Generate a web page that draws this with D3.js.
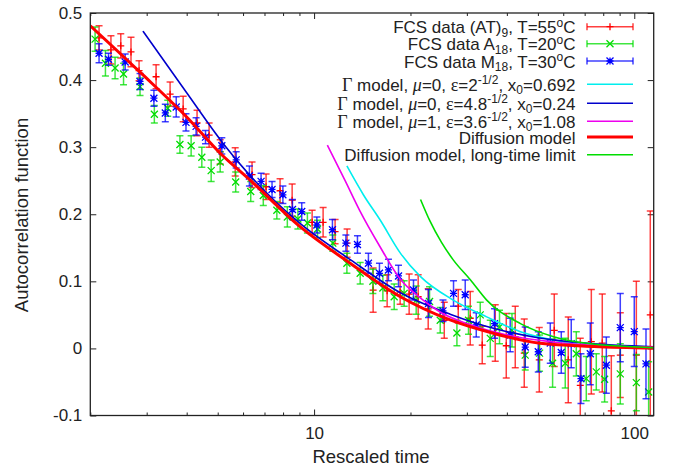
<!DOCTYPE html>
<html>
<head>
<meta charset="utf-8">
<script src="https://cdn.jsdelivr.net/npm/d3@7"></script>
<style>
  body { margin: 0; background: #fff; }
  text { font-family: "Liberation Sans", Arial, Helvetica, sans-serif; fill: #222; }
</style>
</head>
<body>
<svg id="chart" width="673" height="468"></svg>
<script>
// FCS data (AT)9, T=55C  (red)
var atTime  = [2.13, 2.32, 2.49, 2.68, 2.84, 3.21, 3.55, 3.90, 4.31, 4.70, 5.09, 5.67, 6.40, 7.08, 7.83, 8.54, 9.86, 10.67, 11.63, 12.68, 15.29, 16.91, 18.57, 19.81, 21.14, 22.72, 25.50, 28.20, 30.74, 33.51, 36.79, 39.83, 42.49, 45.33, 50.50, 56.25, 62.21, 67.82, 73.43, 79.44, 84.78, 90.44, 101.5, 112.2]
var atValue = [0.463, 0.445, 0.451, 0.442, 0.414, 0.405, 0.379, 0.357, 0.336, 0.318, 0.293, 0.278, 0.259, 0.241, 0.235, 0.221, 0.188, 0.188, 0.174, 0.157, 0.087, 0.086, 0.084, 0.081, 0.077, 0.059, 0.042, 0.063, 0.045, 0.005, 0.023, 0.004, 0.017, -0.007, -0.017, 0.027, -0.017, -0.055, 0.010, 0.008, -0.093, -0.010, -0.010, 0.050]
var atError = [0.018, 0.021, 0.018, 0.022, 0.015, 0.018, 0.018, 0.019, 0.019, 0.018, 0.018, 0.021, 0.019, 0.019, 0.018, 0.024, 0.018, 0.022, 0.018, 0.021, 0.033, 0.024, 0.018, 0.030, 0.033, 0.030, 0.027, 0.025, 0.040, 0.028, 0.042, 0.048, 0.046, 0.051, 0.048, 0.054, 0.064, 0.070, 0.078, 0.073, 0.082, 0.063, 0.110, 0.155]

// FCS data A18, T=20C  (green)
var a18Time  = [2.07, 2.23, 2.39, 2.54, 2.86, 3.17, 3.49, 3.81, 4.13, 4.46, 4.77, 5.09, 5.69, 6.34, 6.94, 7.65, 8.25, 8.90, 9.53, 10.25, 11.44, 12.66, 13.93, 15.26, 16.40, 17.79, 19.11, 20.84, 22.94, 24.77, 27.93, 30.36, 33.03, 35.50, 37.94, 41.50, 45.65, 50.61, 55.58, 60.87, 65.91, 70.82, 76.10, 80.80, 90.44, 101.5, 110.9]
var a18Value = [0.461, 0.425, 0.418, 0.409, 0.390, 0.349, 0.358, 0.304, 0.302, 0.285, 0.265, 0.278, 0.248, 0.234, 0.228, 0.206, 0.196, 0.193, 0.187, 0.178, 0.157, 0.127, 0.112, 0.100, 0.090, 0.077, 0.082, 0.072, 0.070, 0.042, 0.023, 0.042, 0.050, 0.015, 0.032, 0.027, -0.010, -0.007, -0.022, -0.022, -0.008, -0.045, -0.035, -0.046, -0.038, -0.051, -0.065]
var a18Error = [0.018, 0.019, 0.016, 0.016, 0.013, 0.013, 0.012, 0.013, 0.015, 0.015, 0.016, 0.015, 0.015, 0.015, 0.015, 0.013, 0.015, 0.015, 0.015, 0.013, 0.012, 0.015, 0.016, 0.018, 0.019, 0.019, 0.019, 0.021, 0.022, 0.019, 0.019, 0.021, 0.019, 0.027, 0.025, 0.025, 0.022, 0.027, 0.036, 0.037, 0.033, 0.033, 0.027, 0.034, 0.045, 0.042, 0.045]

// FCS data M18, T=30C  (blue)
var m18Time  = [2.13, 2.28, 2.57, 2.86, 3.16, 3.43, 3.71, 3.98, 4.28, 4.58, 5.15, 5.71, 6.28, 6.83, 7.39, 7.99, 8.56, 9.15, 10.20, 11.41, 12.57, 13.66, 14.78, 16.00, 17.07, 18.35, 20.44, 22.77, 25.27, 27.26, 29.65, 32.10, 36.60, 40.98, 45.65, 50.14, 54.66, 59.16, 63.56, 68.16, 72.89, 81.80, 90.44, 100.0, 108.8]
var m18Value = [0.440, 0.431, 0.427, 0.398, 0.373, 0.351, 0.360, 0.337, 0.331, 0.315, 0.302, 0.281, 0.257, 0.249, 0.237, 0.229, 0.207, 0.204, 0.184, 0.177, 0.157, 0.155, 0.127, 0.112, 0.117, 0.108, 0.087, 0.067, 0.056, 0.082, 0.080, 0.035, 0.037, 0.020, 0.002, -0.005, 0.008, -0.006, 0.007, -0.045, -0.008, -0.025, 0.031, 0.025, -0.023]
var m18Error = [0.014, 0.009, 0.012, 0.012, 0.012, 0.013, 0.015, 0.013, 0.013, 0.010, 0.012, 0.012, 0.015, 0.012, 0.012, 0.013, 0.015, 0.013, 0.012, 0.015, 0.012, 0.013, 0.015, 0.015, 0.016, 0.016, 0.015, 0.021, 0.016, 0.019, 0.022, 0.018, 0.022, 0.025, 0.030, 0.030, 0.030, 0.031, 0.036, 0.037, 0.046, 0.042, 0.051, 0.052, 0.052]

// model curves, [time, value]
var gammaA = [[12.66, 0.272], [14.3, 0.228], [16.1, 0.191], [18.6, 0.142], [21.5, 0.107], [27.2, 0.072], [34.6, 0.047], [44.1, 0.025], [56, 0.0126], [71.2, 0.0051], [115, 0.002]]
var gammaB = [[2.92, 0.473], [4, 0.381], [5.19, 0.306], [6.3, 0.258], [9, 0.187], [13, 0.132], [18.6, 0.083], [26.6, 0.051], [36.3, 0.030], [50, 0.016], [70, 0.008], [115, 0.0025]]
var gammaC = [[11.0, 0.303], [12.5, 0.250], [13.9, 0.205], [16, 0.153], [18.6, 0.103], [21.5, 0.075], [24.8, 0.054], [30, 0.037], [40, 0.020], [55, 0.010], [80, 0.004], [115, 0.002]]
var diffusion = [[2, 0.481], [2.85, 0.4125], [4, 0.345], [5.09, 0.291], [6.31, 0.251], [9.04, 0.1815], [12.96, 0.127], [18.6, 0.077], [26.6, 0.0424], [36.3, 0.0225], [50.8, 0.0076], [75, 0.003], [115, 0.0005]]
var longTime = [[21.5, 0.222], [23, 0.19], [25, 0.158], [27.2, 0.132], [30.8, 0.102], [34.6, 0.072], [44.1, 0.037], [56, 0.0175], [71.2, 0.0076], [115, 0.001]]

var yTicks = [-0.1, 0, 0.1, 0.2, 0.3, 0.4, 0.5]
var xMajor = [10, 100]
var xMinor = [2, 3, 4, 5, 6, 7, 8, 9, 20, 30, 40, 50, 60, 70, 80, 90]

var svg = d3.select("#chart")
var plotLeft = 90.3, plotRight = 653.7, plotTop = 13, plotBottom = 415.5

var x = d3.scaleLog().domain([2, 115]).range([plotLeft, plotRight])
var y = d3.scaleLinear().domain([-0.1, 0.5]).range([plotBottom, plotTop])

svg.append("clipPath").attr("id", "clip")
  .append("rect").attr("x", plotLeft).attr("y", plotTop)
  .attr("width", plotRight - plotLeft).attr("height", plotBottom - plotTop)

// axes, ticks pointing inward on all four sides
function styleAxis(g) {
  g.select(".domain").remove()
  g.selectAll(".tick line").attr("stroke", "#222")
  g.selectAll("text").style("font-size", "17px").attr("fill", "#222")
}

svg.append("g").attr("transform", "translate(0," + plotBottom + ")")
  .call(d3.axisBottom(x).tickValues(xMajor).tickSize(-6).tickPadding(11).tickFormat(d3.format("d")))
  .call(styleAxis)
svg.append("g").attr("transform", "translate(0," + plotBottom + ")")
  .call(d3.axisBottom(x).tickValues(xMinor).tickSize(-3).tickFormat(""))
  .call(styleAxis)
svg.append("g").attr("transform", "translate(0," + plotTop + ")")
  .call(d3.axisTop(x).tickValues(xMajor).tickSize(-6).tickFormat(""))
  .call(styleAxis)
svg.append("g").attr("transform", "translate(0," + plotTop + ")")
  .call(d3.axisTop(x).tickValues(xMinor).tickSize(-3).tickFormat(""))
  .call(styleAxis)
svg.append("g").attr("transform", "translate(" + plotLeft + ",0)")
  .call(d3.axisLeft(y).tickValues(yTicks).tickSize(-6).tickPadding(8)
    .tickFormat(function(d) { return d === 0 ? "0" : d.toFixed(1) }))
  .call(styleAxis)
svg.append("g").attr("transform", "translate(" + plotRight + ",0)")
  .call(d3.axisRight(y).tickValues(yTicks).tickSize(-6).tickFormat(""))
  .call(styleAxis)

var plot = svg.append("g").attr("clip-path", "url(#clip)")

function markerPath(kind, s) {
  var plus = "M" + (-s) + ",0H" + s + "M0," + (-s) + "V" + s
  var cross = "M" + (-s) + "," + (-s) + "L" + s + "," + s + "M" + (-s) + "," + s + "L" + s + "," + (-s)
  if (kind === "plus") return plus
  if (kind === "cross") return cross
  return plus + cross
}

function drawSeries(ts, vs, es, color, kind) {
  var rows = ts.map(function(t, i) { return { t: t, v: vs[i], e: es[i] } })
  var g = plot.append("g").attr("stroke", color).attr("fill", "none")
  var pt = g.selectAll("g").data(rows).enter().append("g")
    .attr("transform", function(d) { return "translate(" + x(d.t) + ",0)" })
  pt.append("line").attr("stroke-width", 1.5).attr("stroke-opacity", 0.75)
    .attr("y1", function(d) { return y(d.v - d.e) })
    .attr("y2", function(d) { return y(d.v + d.e) })
  pt.append("path").attr("stroke-width", 1.5).attr("stroke-opacity", 0.75)
    .attr("d", function(d) {
      var lo = y(d.v - d.e), hi = y(d.v + d.e)
      return "M-3.5," + hi + "H3.5M-3.5," + lo + "H3.5"
    })
  pt.append("path").attr("stroke-width", 1.3)
    .attr("transform", function(d) { return "translate(0," + y(d.v) + ")" })
    .attr("d", markerPath(kind, 3.5))
}

drawSeries(atTime, atValue, atError, "#ff0000", "plus")
drawSeries(a18Time, a18Value, a18Error, "#00dd00", "cross")
drawSeries(m18Time, m18Value, m18Error, "#0000ff", "star")

var line = d3.line()
  .x(function(d) { return x(d[0]) })
  .y(function(d) { return y(d[1]) })
  .curve(d3.curveMonotoneX)

var curves = [
  { data: gammaA, color: "#00eeee", width: 1.6 },
  { data: gammaB, color: "#0000cc", width: 1.6 },
  { data: gammaC, color: "#ee00ee", width: 1.6 },
  { data: diffusion, color: "#ff0000", width: 3 },
  { data: longTime, color: "#00dd00", width: 1.6 }
]
curves.forEach(function(c) {
  plot.append("path").datum(c.data)
    .attr("fill", "none").attr("stroke", c.color).attr("stroke-width", c.width)
    .attr("d", line)
})

// frame
svg.append("rect").attr("x", plotLeft).attr("y", plotTop)
  .attr("width", plotRight - plotLeft).attr("height", plotBottom - plotTop)
  .attr("fill", "none").attr("stroke", "#222").attr("stroke-width", 1.3)

// axis titles
svg.append("text").attr("x", (plotLeft + plotRight) / 2 - 1).attr("y", 463)
  .attr("text-anchor", "middle").style("font-size", "18.5px").text("Rescaled time")
svg.append("text").attr("transform", "translate(28,215) rotate(-90)")
  .attr("text-anchor", "middle").style("font-size", "18.5px").text("Autocorrelation function")

// legend
var serif = "'Liberation Serif', 'Times New Roman', serif"
var legendRows = [
  { y: 26.7, kind: "plus", color: "#ff0000", parts: [["FCS data (AT)"], ["9", "sub"], [", T=55"], ["o", "sup"], ["C"]] },
  { y: 43.7, kind: "cross", color: "#00dd00", parts: [["FCS data A"], ["18", "sub"], [", T=20"], ["o", "sup"], ["C"]] },
  { y: 61, kind: "star", color: "#0000ff", parts: [["FCS data M"], ["18", "sub"], [", T=30"], ["o", "sup"], ["C"]] },
  { y: 84.3, color: "#00eeee", width: 1.6, parts: [["\u0393", "serif"], [" model, "], ["\u03bc", "ital"], ["=0, "], ["\u03b5", "serif"], ["=2"], ["-1/2", "sup"], [", x"], ["0", "sub"], ["=0.692"]] },
  { y: 103.3, color: "#0000cc", width: 1.6, parts: [["\u0393", "serif"], [" model, "], ["\u03bc", "ital"], ["=0, "], ["\u03b5", "serif"], ["=4.8"], ["-1/2", "sup"], [", x"], ["0", "sub"], ["=0.24"]] },
  { y: 121.3, color: "#ee00ee", width: 1.6, parts: [["\u0393", "serif"], [" model, "], ["\u03bc", "ital"], ["=1, "], ["\u03b5", "serif"], ["=3.6"], ["-1/2", "sup"], [", x"], ["0", "sub"], ["=1.08"]] },
  { y: 137, color: "#ff0000", width: 3, parts: [["Diffusion model"]] },
  { y: 154.7, color: "#00dd00", width: 1.6, parts: [["Diffusion model, long-time limit"]] }
]

var lx1 = 587, lx2 = 633, textX = 575.5
legendRows.forEach(function(r) {
  var t = svg.append("text").attr("x", textX).attr("y", r.y + 6.5)
    .attr("text-anchor", "end").style("font-size", "17px")
  var shift = 0
  r.parts.forEach(function(p) {
    var s = t.append("tspan").text(p[0])
    var want = 0
    if (p[1] === "sub") { want = 3.5; s.style("font-size", "12px") }
    if (p[1] === "sup") { want = -6.5; s.style("font-size", "12px") }
    if (p[1] === "serif") s.style("font-family", serif).style("font-size", "18px")
    if (p[1] === "ital") s.style("font-family", serif).style("font-style", "italic").style("font-size", "18px")
    if (want !== shift) { s.attr("dy", want - shift); shift = want }
  })

  var g = svg.append("g").attr("stroke", r.color).attr("fill", "none")
  if (r.kind) {
    g.append("line").attr("x1", lx1).attr("x2", lx2).attr("y1", r.y).attr("y2", r.y)
      .attr("stroke-width", 1.5).attr("stroke-opacity", 0.75)
    g.append("path").attr("stroke-width", 1.5).attr("stroke-opacity", 0.75)
      .attr("d", "M" + lx1 + "," + (r.y - 3.5) + "V" + (r.y + 3.5) + "M" + lx2 + "," + (r.y - 3.5) + "V" + (r.y + 3.5))
    g.append("path").attr("stroke-width", 1.3)
      .attr("transform", "translate(" + ((lx1 + lx2) / 2) + "," + r.y + ")")
      .attr("d", markerPath(r.kind, 3.5))
  } else {
    g.append("line").attr("x1", lx1).attr("x2", lx2).attr("y1", r.y).attr("y2", r.y)
      .attr("stroke-width", r.width)
  }
})
</script>
</body>
</html>
